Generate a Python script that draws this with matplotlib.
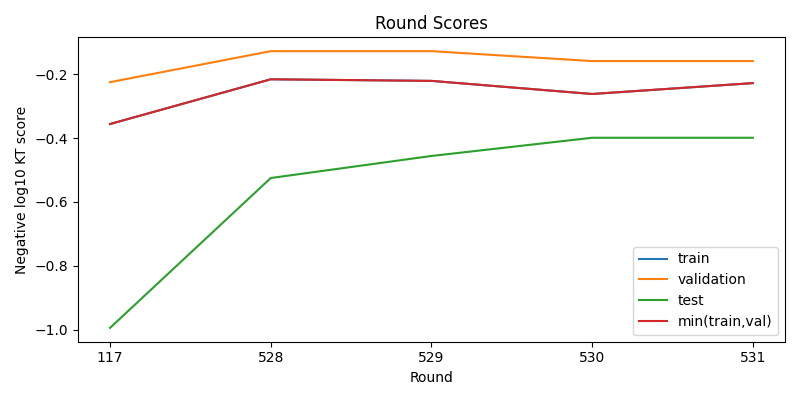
import matplotlib
matplotlib.use("Agg")
import matplotlib.pyplot as plt

rounds = ["117", "528", "529", "530", "531"]
train = [-0.356, -0.216, -0.221, -0.262, -0.228]
validation = [-0.225, -0.128, -0.128, -0.159, -0.159]
test = [-0.994, -0.525, -0.456, -0.399, -0.399]
min_train_val = [-0.356, -0.216, -0.221, -0.262, -0.228]

fig, ax = plt.subplots(figsize=(8, 4), dpi=100)
ax.plot(rounds, train, label="train")
ax.plot(rounds, validation, label="validation")
ax.plot(rounds, test, label="test")
ax.plot(rounds, min_train_val, label="min(train,val)")
ax.set_title("Round Scores")
ax.set_xlabel("Round")
ax.set_ylabel("Negative log10 KT score")
ax.legend(loc="lower right")
fig.tight_layout()
fig.savefig("out.png")
